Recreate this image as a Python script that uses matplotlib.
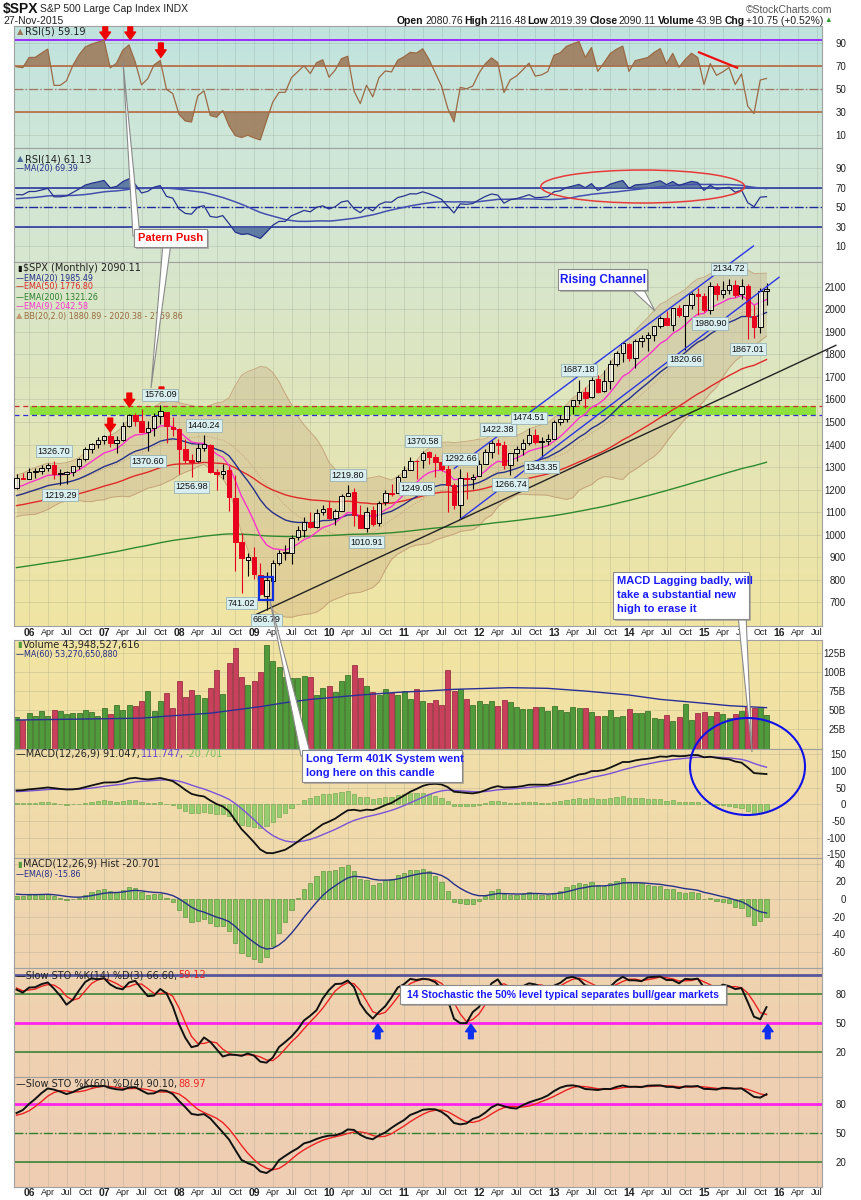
import numpy as np
import matplotlib
matplotlib.use("Agg")
import matplotlib.pyplot as plt
from matplotlib.colors import LinearSegmentedColormap
from matplotlib.patches import Rectangle, Ellipse, Polygon

W, H = 861, 1200

# monthly $SPX candles, Nov 2005 .. Nov 2015
opens = [1207.01, 1249.48,
         1248.29, 1280.08, 1280.66, 1294.87, 1310.61, 1270.09, 1270.20, 1276.66, 1303.82, 1335.85, 1377.94, 1400.63,
         1418.03, 1437.90, 1406.80, 1420.83, 1482.37, 1530.62, 1504.66, 1455.18, 1473.96, 1527.29, 1545.79, 1479.63,
         1467.97, 1378.60, 1330.45, 1326.41, 1385.97, 1399.62, 1276.69, 1269.42, 1287.83, 1164.17, 968.67, 888.61,
         902.99, 823.09, 729.57, 793.59, 872.74, 923.26, 920.82, 990.22, 1019.52, 1054.91, 1036.18, 1098.89,
         1116.56, 1073.89, 1105.36, 1171.23, 1188.58, 1087.30, 1031.10, 1107.53, 1049.72, 1143.49, 1185.71, 1186.60,
         1257.62, 1289.14, 1328.64, 1329.48, 1365.21, 1345.20, 1320.64, 1292.59, 1219.12, 1131.21, 1251.00, 1246.91,
         1258.86, 1312.45, 1365.90, 1408.47, 1397.86, 1309.87, 1362.33, 1379.32, 1406.54, 1440.90, 1412.20, 1416.18,
         1426.19, 1498.11, 1514.68, 1569.18, 1597.55, 1631.71, 1609.78, 1689.42, 1635.95, 1682.41, 1758.70, 1806.55,
         1845.86, 1782.68, 1857.68, 1873.96, 1884.39, 1923.87, 1962.29, 1929.80, 2004.07, 1971.44, 2018.21, 2065.78,
         2058.90, 1996.67, 2105.23, 2067.63, 2087.38, 2108.64, 2067.00, 2104.49, 1970.09, 1919.65, 2080.76]
highs = [1270.64, 1275.80,
         1294.90, 1297.57, 1310.88, 1318.16, 1326.70, 1290.68, 1283.42, 1306.74, 1340.28, 1389.45, 1407.89, 1431.81,
         1441.61, 1461.57, 1438.89, 1498.02, 1535.56, 1540.56, 1555.90, 1503.89, 1538.74, 1576.09, 1545.79, 1523.57,
         1471.77, 1426.29, 1359.68, 1404.57, 1440.24, 1404.05, 1292.17, 1313.15, 1303.04, 1264.12, 1007.51, 918.85,
         943.85, 875.01, 832.98, 888.70, 930.17, 956.23, 996.68, 1039.47, 1080.15, 1101.36, 1113.69, 1130.38,
         1150.45, 1112.42, 1180.69, 1219.80, 1205.13, 1131.23, 1120.95, 1129.24, 1148.90, 1196.14, 1227.08, 1262.60,
         1302.67, 1344.07, 1332.28, 1370.58, 1370.58, 1356.48, 1356.48, 1307.38, 1229.29, 1292.66, 1277.55, 1269.37,
         1333.47, 1378.04, 1419.15, 1422.38, 1415.32, 1363.46, 1391.74, 1426.68, 1474.51, 1470.96, 1434.27, 1448.00,
         1509.94, 1530.94, 1570.28, 1597.57, 1687.18, 1654.19, 1698.78, 1709.67, 1729.86, 1775.22, 1813.55, 1849.44,
         1850.84, 1867.92, 1883.97, 1897.28, 1924.03, 1968.17, 1991.39, 2005.04, 2019.26, 2018.19, 2075.76, 2093.55,
         2072.36, 2119.59, 2117.52, 2125.92, 2134.72, 2129.87, 2132.82, 2112.66, 2020.86, 2094.32, 2116.48]
lows = [1201.07, 1246.59,
        1245.74, 1253.61, 1268.42, 1280.74, 1245.34, 1219.29, 1224.54, 1261.30, 1290.93, 1327.10, 1360.98, 1385.93,
        1403.97, 1389.42, 1363.98, 1416.37, 1476.70, 1484.18, 1454.25, 1370.60, 1439.29, 1489.56, 1406.10, 1435.65,
        1270.05, 1316.75, 1256.98, 1324.35, 1373.07, 1272.00, 1200.44, 1247.45, 1106.42, 839.80, 741.02, 815.69,
        804.30, 734.52, 666.79, 783.32, 866.10, 888.86, 869.32, 978.51, 991.97, 1029.38, 1029.38, 1085.89,
        1071.59, 1044.50, 1105.36, 1170.69, 1040.78, 1028.33, 1010.91, 1039.70, 1039.70, 1131.87, 1173.00, 1186.60,
        1257.62, 1289.14, 1249.05, 1294.70, 1311.80, 1258.07, 1282.86, 1101.54, 1114.22, 1074.77, 1158.66, 1202.37,
        1258.86, 1312.45, 1340.03, 1357.38, 1291.98, 1266.74, 1325.41, 1354.65, 1396.56, 1403.28, 1343.35, 1398.11,
        1426.19, 1485.01, 1501.48, 1536.03, 1581.28, 1560.33, 1604.57, 1627.47, 1633.41, 1646.47, 1746.20, 1767.99,
        1770.45, 1737.92, 1834.44, 1814.36, 1859.79, 1915.98, 1930.67, 1904.78, 1964.04, 1820.66, 2001.01, 1972.56,
        1988.12, 1980.90, 2039.69, 2048.38, 2067.93, 2056.32, 2044.02, 1867.01, 1871.91, 1893.70, 2019.39]
closes = [1249.48, 1248.29,
          1280.08, 1280.66, 1294.87, 1310.61, 1270.09, 1270.20, 1276.66, 1303.82, 1335.85, 1377.94, 1400.63, 1418.30,
          1438.24, 1406.82, 1420.86, 1482.37, 1530.62, 1503.35, 1455.27, 1473.99, 1526.75, 1549.38, 1481.14, 1468.36,
          1378.55, 1330.63, 1322.70, 1385.59, 1400.38, 1280.00, 1267.38, 1282.83, 1166.36, 968.75, 896.24, 903.25,
          825.88, 735.09, 797.87, 872.81, 919.14, 919.32, 987.48, 1020.62, 1057.08, 1036.19, 1095.63, 1115.10,
          1073.87, 1104.49, 1169.43, 1186.69, 1089.41, 1030.71, 1101.60, 1049.33, 1141.20, 1183.26, 1180.55, 1257.64,
          1286.12, 1327.22, 1325.83, 1363.61, 1345.20, 1320.64, 1292.28, 1218.89, 1131.42, 1253.30, 1246.96, 1257.60,
          1312.41, 1365.68, 1408.47, 1397.91, 1310.33, 1362.16, 1379.32, 1406.58, 1440.67, 1412.16, 1416.18, 1426.19,
          1498.11, 1514.68, 1569.19, 1597.57, 1630.74, 1606.28, 1685.73, 1632.97, 1681.55, 1756.54, 1805.81, 1848.36,
          1782.59, 1859.45, 1872.34, 1883.95, 1923.57, 1960.23, 1930.67, 2003.37, 1972.29, 2018.05, 2067.56, 2058.90,
          1994.99, 2104.50, 2067.89, 2085.51, 2107.39, 2063.11, 2103.84, 1972.18, 1920.03, 2079.36, 2090.11]

# monthly volume in billions
volume = [40.7, 37.2, 46.7, 42.4, 48.9, 42.4, 50.2, 48.9, 45.0, 45.9, 45.9, 50.2, 47.6, 42.4, 52.4, 45.0,
          56.8, 50.2, 56.8, 55.5, 61.6, 75.1, 48.9, 62.0, 72.8, 52.4, 88.1, 67.2, 76.3, 69.8, 65.9, 78.4,
          102.4, 70.7, 111.1, 130.7, 92.9, 82.8, 87.6, 99.3, 135.1, 114.6, 106.8, 92.9, 92.5, 91.6, 94.6, 92.9,
          69.8, 78.4, 81.6, 73.3, 88.5, 95.9, 108.9, 91.6, 81.6, 74.2, 69.8, 77.2, 71.9, 69.8, 75.5, 64.6,
          77.2, 62.4,
          59.0, 63.4, 56.8, 102.4, 75.0, 77.2, 64.6, 56.8, 62.0, 58.1, 61.6, 55.9, 63.7, 60.7, 54.6, 51.6,
          51.6, 54.6, 53.7, 48.9, 55.9, 50.2, 48.0, 54.6, 52.8, 52.4, 48.0, 42.8, 42.4, 50.2, 41.5, 42.4,
          51.6, 46.7, 46.7, 48.9, 39.8, 38.5, 43.3, 35.9, 41.1, 58.1, 37.6, 46.7, 47.6, 42.4, 47.6, 44.6,
          40.2, 44.6, 48.9, 53.7, 52.4, 53.7, 43.9]
# MA(60) of volume (month index, billions)
vol_ma_idx = [0, 13, 20, 24, 31, 39, 43, 47, 55, 61, 66, 70, 79, 85, 91, 98, 103, 109, 114, 120]
vol_ma_val = [37.2, 38.7, 39.6, 42.2, 46.1, 54.6, 59.8, 64.1, 69.8, 73.3, 75.3, 77.2, 79.4, 78.5,
              75.0, 69.8, 64.1, 59.8, 55.9, 53.3]

# the 60 months before the chart (Nov 2000 .. Oct 2005), only to warm up the indicators
warm_high = [1438.46, 1389.06,
             1383.37, 1376.38, 1267.42, 1269.30, 1315.93, 1286.62, 1239.78, 1226.27, 1155.40, 1110.61, 1163.38, 1172.51,
             1176.97, 1130.20, 1173.03, 1147.84, 1106.59, 1070.31, 994.46, 965.00, 924.02, 907.44, 951.57, 954.28,
             935.05, 864.64, 895.90, 924.24, 965.38, 1015.33, 1015.41, 1011.01, 1040.29, 1053.79, 1063.65, 1112.56,
             1155.38, 1158.98, 1163.23, 1150.57, 1127.74, 1146.34, 1140.84, 1109.68, 1131.54, 1142.05, 1188.46, 1217.33,
             1217.80, 1212.44, 1229.11, 1191.88, 1199.56, 1219.59, 1245.15, 1245.86, 1243.13, 1233.34]
warm_low = [1294.90, 1254.07,
            1274.62, 1228.33, 1081.19, 1091.99, 1232.00, 1203.03, 1165.54, 1124.87, 944.75, 1026.76, 1054.31, 1114.93,
            1081.66, 1074.36, 1106.73, 1063.46, 1048.96, 952.92, 775.68, 833.44, 815.28, 768.63, 872.15, 871.85,
            840.34, 806.29, 788.90, 847.85, 902.83, 963.59, 962.10, 960.84, 990.36, 995.97, 1031.20, 1058.20,
            1105.08, 1124.44, 1087.16, 1105.29, 1076.32, 1113.32, 1078.78, 1060.72, 1101.29, 1090.19, 1127.60, 1173.76,
            1163.75, 1180.95, 1176.84, 1136.15, 1146.18, 1188.30, 1183.55, 1201.07, 1205.35, 1168.20]
warm_close = [1314.95, 1320.28,
              1366.01, 1239.94, 1160.33, 1249.46, 1255.82, 1224.38, 1211.23, 1133.58, 1040.94, 1059.78, 1139.45, 1148.08,
              1130.20, 1106.73, 1147.39, 1076.92, 1067.14, 989.82, 911.62, 916.07, 815.28, 885.76, 936.31, 879.82,
              855.70, 841.15, 848.18, 916.92, 963.59, 974.50, 990.31, 1008.01, 995.97, 1050.71, 1058.20, 1111.92,
              1131.13, 1144.94, 1126.21, 1107.30, 1120.68, 1140.84, 1101.72, 1104.24, 1114.58, 1130.20, 1173.82, 1211.92,
              1181.27, 1203.60, 1180.59, 1156.85, 1191.50, 1191.33, 1234.18, 1220.33, 1228.81, 1207.01]

# slow EMAs at Nov 2005
ema50_start = 1129.0
ema200_start = 854.0

xtick_idx = list(range(2, 129, 3))
xtick_labels = ['06', 'Apr', 'Jul', 'Oct', '07', 'Apr', 'Jul', 'Oct', '08', 'Apr', 'Jul', 'Oct',
                '09', 'Apr', 'Jul', 'Oct', '10', 'Apr', 'Jul', 'Oct', '11', 'Apr', 'Jul', 'Oct',
                '12', 'Apr', 'Jul', 'Oct', '13', 'Apr', 'Jul', 'Oct', '14', 'Apr', 'Jul', 'Oct',
                '15', 'Apr', 'Jul', 'Oct', '16', 'Apr', 'Jul']

# high / low labels on the price panel
lab_idx = [6, 7, 21, 23, 30, 28, 36, 40, 53, 56, 65, 64, 71, 77, 79, 82, 84, 90, 107, 114, 111, 117]
lab_val = [1326.70, 1219.29, 1370.60, 1576.09, 1440.24, 1256.98, 741.02, 666.79, 1219.80, 1010.91,
           1370.58, 1249.05, 1292.66, 1422.38, 1266.74, 1474.51, 1343.35, 1687.18, 1820.66, 2134.72,
           1980.90, 1867.01]
lab_up = [1, 0, 0, 1, 1, 0, 0, 0, 1, 0, 1, 0, 1, 1, 0, 1, 0, 1, 0, 1, 0, 0]


# ---------- indicators ----------
def ema(x, n, seed=None):
    a = 2.0 / (n + 1)
    out = np.empty(len(x))
    out[0] = x[0] if seed is None else seed
    for k in range(1, len(x)):
        out[k] = out[k - 1] + a * (x[k] - out[k - 1])
    return out


def sma(x, n):
    out = np.full(len(x), np.nan)
    for k in range(len(x)):
        w = x[max(0, k - n + 1):k + 1]
        w = w[~np.isnan(w)]
        if len(w):
            out[k] = w.mean()
    return out


def rsi(x, n):
    d = np.diff(x)
    g = np.clip(d, 0, None)
    l = np.clip(-d, 0, None)
    ag, al = g[:n].mean(), l[:n].mean()
    out = np.full(len(x), np.nan)
    out[n] = 100 - 100 / (1 + ag / al)
    for k in range(n, len(d)):
        ag = (ag * (n - 1) + g[k]) / n
        al = (al * (n - 1) + l[k]) / n
        out[k + 1] = 100 - 100 / (1 + ag / al) if al > 0 else 100
    return out


def slow_sto(h, l, c, n, dn):
    fk = np.empty(len(c))
    for k in range(len(c)):
        hh = h[max(0, k - n + 1):k + 1].max()
        ll = l[max(0, k - n + 1):k + 1].min()
        fk[k] = 100 * (c[k] - ll) / (hh - ll)
    sk = sma(fk, 3)
    return sk, sma(sk, dn)


c_all = np.array(warm_close + closes)
h_all = np.array(warm_high + highs)
l_all = np.array(warm_low + lows)
nw = len(warm_close)
o = np.array(opens); hi = np.array(highs); lo = np.array(lows); c = np.array(closes)
x = np.arange(len(c))
prev_c = c_all[nw - 1:-1]
down = c < prev_c

rsi5 = rsi(c_all, 5)[nw:]
rsi14_all = rsi(c_all, 14)
rsi14 = rsi14_all[nw:]
rsi14_ma = sma(rsi14_all, 20)[nw:]
ema9 = ema(c_all, 9)[nw:]
ema20 = ema(c_all, 20)[nw:]
ema50 = ema(c, 50, ema50_start)
ema200 = ema(c, 200, ema200_start)
bb_mid = sma(c_all, 20)[nw:]
bb_sd = np.array([c_all[k - 19:k + 1].std() for k in range(nw, len(c_all))])
macd_all = ema(c_all, 12) - ema(c_all, 26)
sig_all = ema(macd_all, 9)
hist_all = macd_all - sig_all
macd, sig, hist = macd_all[nw:], sig_all[nw:], hist_all[nw:]
hist_ema = ema(hist_all, 8)[nw:]
k14, d14 = slow_sto(h_all, l_all, c_all, 14, 3)
k60, d60 = slow_sto(h_all, l_all, c_all, 60, 4)
k14, d14, k60, d60 = k14[nw:], d14[nw:], k60[nw:], d60[nw:]

# ---------- layout ----------
NARROW = ['Liberation Sans Narrow', 'Liberation Sans', 'DejaVu Sans']
plt.rcParams['font.family'] = ['Liberation Sans', 'DejaVu Sans']

fig = plt.figure(figsize=(W / 100, H / 100), dpi=100)
fig.patch.set_facecolor('white')

X0, X1 = 14.3, 821.7
XL = ((X0 - 16.5) / 6.25, (X1 - 16.5) / 6.25)
grid_c = (0.42, 0.47, 0.42, 0.2)


def panel(top, bot, ctop, cbot, ylim, yticks, ylabels=None):
    ax = fig.add_axes([X0 / W, 1 - bot / H, (X1 - X0) / W, (bot - top) / H])
    cmap = LinearSegmentedColormap.from_list('bg', [ctop, cbot])
    ax.imshow(np.linspace(0, 1, 128)[:, None], extent=[0, 1, 0, 1], transform=ax.transAxes,
              aspect='auto', cmap=cmap, zorder=0)
    ax.set_xlim(*XL)
    ax.set_ylim(*ylim)
    for t in xtick_idx:
        ax.axvline(t, color=grid_c, lw=0.6, zorder=0.5)
    for v in yticks:
        ax.axhline(v, color=grid_c, lw=0.6, zorder=0.5)
    ax.yaxis.tick_right()
    ax.set_yticks(yticks)
    ax.set_yticklabels(ylabels if ylabels else [str(v) for v in yticks], fontsize=7, color='#222222')
    for lb in ax.get_yticklabels():
        lb.set_ha('right')
    ax.tick_params(axis='y', length=0, pad=17.5)
    ax.set_xticks(xtick_idx)
    ax.set_xticklabels([])
    ax.tick_params(axis='x', length=0)
    for s in ax.spines.values():
        s.set_color('#a0a0a0')
        s.set_linewidth(0.8)
    return ax


def bottom_labels(ax, pad):
    ax.set_xticklabels(xtick_labels, fontsize=6.5, color='#222222')
    for lb in ax.get_xticklabels():
        if lb.get_text()[0].isdigit():
            lb.set_fontweight('bold')
            lb.set_fontsize(7.5)
    ax.tick_params(axis='x', pad=pad)


ax1 = panel(26, 148, '#c0e3df', '#cfe7d8', (-1.3, 104.8), [10, 30, 50, 70, 90])
ax2 = panel(148, 262, '#cee6d8', '#d7e7cf', (-5.9, 111), [10, 30, 50, 70, 90])
ax3 = panel(262, 626, '#d6e6cc', '#f0e4a2', (595, 2209.6), list(range(700, 2101, 100)))
ax4 = panel(640, 748.5, '#f1e4a2', '#f1e1a6', (0, 141.6), [25, 50, 75, 100, 125],
            ['25B', '50B', '75B', '100B', '125B'])
ax5 = panel(748.5, 858, '#f0dea8', '#f0d9ac', (-161.7, 168), [-150, -100, -50, 0, 50, 100, 150])
ax6 = panel(858, 968, '#f0d8ae', '#efd4b0', (-78.4, 46.6), [-60, -40, -20, 0, 20, 40])
ax7 = panel(968, 1077, '#efd3b0', '#efd0b2', (-5.5, 107), [20, 50, 80])
ax8 = panel(1077, 1187, '#efd0b2', '#eecdb4', (-6.3, 108), [20, 50, 80])
bottom_labels(ax3, 1.5)
bottom_labels(ax8, 1.0)

# RSI(5)
brown = '#9c7656'
ax1.axhline(70, color='#b8683c', lw=1.2, zorder=1)
ax1.axhline(30, color='#b8683c', lw=1.2, zorder=1)
ax1.axhline(50, color='#a07a66', lw=1.0, ls='-.', zorder=1)
ax1.axhline(92.6, color='#9a2cff', lw=1.4, zorder=1)
ax1.fill_between(x, rsi5, 70, where=rsi5 > 70, interpolate=True, color=brown, alpha=0.85, lw=0, zorder=2)
ax1.fill_between(x, rsi5, 30, where=rsi5 < 30, interpolate=True, color=brown, alpha=0.85, lw=0, zorder=2)
ax1.plot(x, rsi5, color='#9b6a44', lw=0.9, zorder=3)
ax1.plot([109.2, 115.3], [81.9, 68.5], color='#ee1111', lw=1.6, zorder=4)
for ai, at, ah in zip([14.2, 18.2, 23.1], [104.0, 104.0, 90.0], [93.0, 93.0, 77.5]):
    ax1.annotate('', xy=(ai, ah), xytext=(ai, at), annotation_clip=False,
                 arrowprops=dict(arrowstyle='simple,head_length=0.6,head_width=0.85,tail_width=0.38',
                                 fc='#ee0000', ec='#ee0000', mutation_scale=9, shrinkA=0, shrinkB=0))

# RSI(14)
navy = '#1c2a9c'
ax2.axhline(70, color=navy, lw=1.1, zorder=1)
ax2.axhline(30, color=navy, lw=1.1, zorder=1)
ax2.axhline(50, color=navy, lw=1.0, ls='-.', zorder=1)
ax2.fill_between(x, rsi14, 70, where=rsi14 > 70, interpolate=True, color='#4c6a9a', alpha=0.85, lw=0, zorder=2)
ax2.fill_between(x, rsi14, 30, where=rsi14 < 30, interpolate=True, color='#4c6a9a', alpha=0.85, lw=0, zorder=2)
ax2.plot(x, rsi14_ma, color='#4450b0', lw=1.1, zorder=3)
ax2.plot(x, rsi14, color='#27338f', lw=0.9, zorder=3)
ax2.add_patch(Ellipse((100.2, 71.5), 32.6, 33.8, fill=False, ec='#e83a3a', lw=1.1, zorder=5))

# price
tan = '#c29a72'
ax3.fill_between(x, bb_mid - 2 * bb_sd, bb_mid + 2 * bb_sd, color=tan, alpha=0.28, lw=0, zorder=1)
ax3.plot(x, bb_mid + 2 * bb_sd, color=tan, lw=0.7, alpha=0.8, zorder=1.2)
ax3.plot(x, bb_mid - 2 * bb_sd, color=tan, lw=0.7, alpha=0.8, zorder=1.2)
ax3.plot(x, bb_mid, color=tan, lw=0.7, ls=':', alpha=0.9, zorder=1.2)
ax3.add_patch(Rectangle((2.16, 1532), 125.7, 37.5, fc='#8ee03a', ec='none', zorder=1.5))
ax3.axhline(1569.5, color='#c83030', lw=0.9, ls=(0, (4, 3)), zorder=1.6)
ax3.axhline(1532, color='#3030d8', lw=0.9, ls=(0, (4, 3)), zorder=1.6)
ax3.plot(x, ema200, color='#2f8a2f', lw=1.0, zorder=2)
ax3.plot(x, ema50, color='#e02a2a', lw=1.0, zorder=2)
ax3.plot(x, ema20, color='#26308a', lw=1.0, zorder=2)
ax3.plot(x, ema9, color='#ff33cc', lw=1.0, zorder=2)
for k in range(len(c)):
    col = '#e8001c' if down[k] else '#000000'
    ax3.vlines(k, lo[k], hi[k], color=col, lw=0.8, zorder=3)
    b0, b1 = min(o[k], c[k]), max(o[k], c[k])
    fc = col if c[k] < o[k] else (1, 1, 0.94, 0.75)
    ax3.add_patch(Rectangle((k - 0.36, b0), 0.72, max(b1 - b0, 1.5), fc=fc, ec=col, lw=0.7, zorder=3.5))
ax3.plot([70.05, 117.9], [1294, 2280.5], color='#2a36e6', lw=1.0, zorder=4, clip_on=False)
ax3.plot([70.96, 122.0], [1068, 2141.7], color='#2a36e6', lw=1.0, zorder=4, clip_on=False)
ax3.plot([38.16, 131.1], [643.7, 1840], color='#222222', lw=1.0, zorder=4, clip_on=False)
ax3.add_patch(Rectangle((38.85, 710), 2.15, 103.6, fill=False, ec='#1030e0', lw=1.6, zorder=4))
for ai, at, ah in zip([15.0, 18.05, 23.2], [1517, 1628, 1655], [1456, 1567, 1594]):
    ax3.annotate('', xy=(ai, ah), xytext=(ai, at),
                 arrowprops=dict(arrowstyle='simple,head_length=0.6,head_width=0.85,tail_width=0.38',
                                 fc='#ee0000', ec='#ee0000', mutation_scale=9, shrinkA=0, shrinkB=0))
for li, lv, up in zip(lab_idx, lab_val, lab_up):
    ax3.annotate(f'{lv:.2f}', xy=(li, lv), xytext=(0, 10 if up else -10), textcoords='offset pixels',
                 ha='center', va='center', fontsize=6.5, family=NARROW, color='#111111', zorder=6,
                 bbox=dict(boxstyle='square,pad=0.18', fc='#d9eeee', ec='#9ab4b4', lw=0.6))

# volume
for k in range(len(c)):
    fc, ec = ('#c8405c', '#8c2038') if down[k] else ('#4f9a3a', '#2f6820')
    ax4.add_patch(Rectangle((k - 0.4, 0), 0.8, volume[k], fc=fc, ec=ec, lw=0.5, zorder=2))
ax4.plot(vol_ma_idx, vol_ma_val, color='#2a2f98', lw=1.0, zorder=3)

# MACD
ax5.bar(x, hist, width=0.7, color='#98cc70', edgecolor='#68a048', lw=0.4, zorder=2)
ax5.plot(x, sig, color='#7a52d8', lw=1.0, zorder=3)
ax5.plot(x, macd, color='#111111', lw=1.3, zorder=3)

# MACD histogram
ax6.bar(x, hist, width=0.7, color='#86c460', edgecolor='#4f8a32', lw=0.4, zorder=2)
ax6.plot(x, hist_ema, color='#26308a', lw=1.0, zorder=3)

# slow stochastics
green = '#2f7f2f'
ax7.axhline(100, color='#55559a', lw=2.0, zorder=1)
ax7.axhline(80, color=green, lw=1.1, zorder=1)
ax7.axhline(20, color=green, lw=1.1, zorder=1)
ax7.axhline(50, color='#ff22ee', lw=2.0, zorder=1)
ax7.plot(x, d14, color='#ee2222', lw=1.0, zorder=3)
ax7.plot(x, k14, color='#111111', lw=1.4, zorder=3)
for ai in [57.8, 72.7, 120.2]:
    ax7.annotate('', xy=(ai, 49), xytext=(ai, 34),
                 arrowprops=dict(arrowstyle='simple,head_length=0.6,head_width=0.85,tail_width=0.38',
                                 fc='#1030f0', ec='#1030f0', mutation_scale=9, shrinkA=0, shrinkB=0))
ax8.axhline(80, color='#ff22ee', lw=2.0, zorder=1)
ax8.axhline(50, color=green, lw=1.0, ls='-.', zorder=1)
ax8.axhline(20, color=green, lw=1.1, zorder=1)
ax8.plot(x, d60, color='#ee2222', lw=1.0, zorder=3)
ax8.plot(x, k60, color='#111111', lw=1.4, zorder=3)

# ---------- texts ----------
renderer = fig.canvas.get_renderer()


def chain(x0, y, parts, family=None):
    xx = x0
    for s, col, wt, sz in parts:
        t = fig.text(xx / W, 1 - y / H, s, color=col, fontweight=wt, fontsize=sz, va='center', ha='left',
                     family=family or ['DejaVu Sans'])
        xx = t.get_window_extent(renderer).x1 + 1.5
    return xx


nb = 'normal'
chain(3, 9.5, [('$SPX', '#111111', 'bold', 10), ('S&P 500 Large Cap Index INDX', '#222222', nb, 7.5)],
      family=NARROW)
chain(3, 21.5, [('27-Nov-2015', '#222222', nb, 7.5)], family=NARROW)
fig.text(832 / W, 1 - 10 / H, '©StockCharts.com', ha='right', va='center', fontsize=7.5, color='#555555',
         family=NARROW)
chain(397, 21, [('Open', '#111', 'bold', 7.5), ('2080.76', '#222', nb, 7.5),
                ('High', '#111', 'bold', 7.5), ('2116.48', '#222', nb, 7.5),
                ('Low', '#111', 'bold', 7.5), ('2019.39', '#222', nb, 7.5),
                ('Close', '#111', 'bold', 7.5), ('2090.11', '#222', nb, 7.5),
                ('Volume', '#111', 'bold', 7.5), ('43.9B', '#222', nb, 7.5),
                ('Chg', '#111', 'bold', 7.5), ('+10.75 (+0.52%)', '#222', nb, 7.5),
                ('▲', '#2a9a2a', nb, 5.5)], family=NARROW)

chain(17, 32, [('▲', brown, nb, 6), ('RSI(5) 59.19', '#222', nb, 7)])
chain(17, 159, [('▲', '#4c6a9a', nb, 6), ('RSI(14) 61.13', '#222', nb, 7)])
chain(16, 169, [('—MA(20) 69.39', '#26308a', nb, 5.8)])
chain(17, 268, [('▮', '#111', nb, 6), ('$SPX (Monthly) 2090.11', '#222', nb, 7)])
chain(16, 278, [('—EMA(20) 1985.49', '#26308a', nb, 5.8)])
chain(16, 287, [('—EMA(50) 1776.80', '#e02a2a', nb, 5.8)])
chain(16, 297, [('—EMA(200) 1321.26', '#2f7f2f', nb, 5.8)])
chain(16, 306, [('—EMA(9) 2042.58', '#ff33cc', nb, 5.8)])
chain(16, 316, [('▲', tan, nb, 6), ('BB(20,2.0) 1880.89 - 2020.38 - 2159.86', '#9a6a40', nb, 5.8)])
chain(17, 645, [('▮', '#4f9a3a', nb, 6), ('Volume 43,948,527,616', '#222', nb, 7)])
chain(16, 655, [('—MA(60) 53,270,650,880', '#26308a', nb, 5.8)])
chain(16, 754, [('—MACD(12,26,9) 91.047,', '#222', nb, 7), ('111.747,', '#6a48d0', nb, 7),
                ('-20.701', '#7cc060', nb, 7)])
chain(17, 864, [('▮', '#4f9a3a', nb, 6), ('MACD(12,26,9) Hist -20.701', '#222', nb, 7)])
chain(16, 874, [('—EMA(8) -15.86', '#26308a', nb, 5.8)])
chain(16, 975, [('—Slow STO %K(14) %D(3) 66.60,', '#222', nb, 7), ('59.12', '#ee2222', nb, 7)])
chain(16, 1084, [('—Slow STO %K(60) %D(4) 90.10,', '#222', nb, 7), ('88.97', '#ee2222', nb, 7)])

# ---------- callouts, drawn in figure pixels ----------
ov = fig.add_axes([0, 0, 1, 1], zorder=20)
ov.set_xlim(0, W)
ov.set_ylim(H, 0)
ov.axis('off')


def callout(x0, y0, x1, y1, lines, color, size, tails, ha='center', tx=None, dy=14):
    for a, b, tip in tails:
        ov.add_patch(Polygon([a, tip, b], closed=True, fc='white', ec='#8a8a8a', lw=0.8, zorder=1))
    ov.add_patch(Rectangle((x0 + 2, y0 + 2), x1 - x0, y1 - y0, fc='#8a8a8a', ec='none', alpha=0.55, zorder=2))
    ov.add_patch(Rectangle((x0, y0), x1 - x0, y1 - y0, fc='white', ec='#8a8a8a', lw=0.8, zorder=3))
    n = len(lines)
    ymid = (y0 + y1) / 2
    for j, s in enumerate(lines):
        yy = ymid + (j - (n - 1) / 2) * dy
        xx = (x0 + x1) / 2 if ha == 'center' else tx
        ov.text(xx, yy, s, ha=ha, va='center', color=color, fontsize=size, fontweight='bold',
                family=NARROW, zorder=4)


callout(134, 229, 207, 247, ['Patern Push'], '#ee0000', 8,
        [((133, 236), (140, 236), (123, 62)), ((163, 243), (171, 243), (151, 388))])
callout(558, 269, 647, 290, ['Rising Channel'], '#1a1aff', 8.5, [((628, 286), (642, 286), (655, 311))])
callout(613, 572, 749, 619, ['MACD Lagging badly, will', 'take a substantial new', 'high to erase it'],
        '#1a1aff', 8, [((738, 615), (746, 615), (752, 752))], ha='left', tx=617)
callout(302, 750, 462, 782, ['Long Term 401K System went', 'long here on this candle'], '#1a1aff', 8,
        [((301, 756), (311, 756), (270, 601))], ha='left', tx=306)
callout(400, 985, 726, 1004, ['14 Stochastic the 50% level typical separates bull/gear markets'],
        '#1a1aff', 7.5, [])
ov.add_patch(Ellipse((747.5, 766.5), 115, 97, fill=False, ec='#1010e8', lw=1.5, zorder=5))

fig.savefig('out.png', dpi=100)
